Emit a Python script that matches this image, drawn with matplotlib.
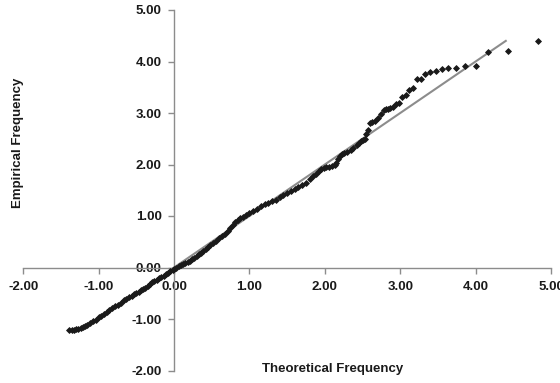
import matplotlib
matplotlib.use('Agg')
import matplotlib.pyplot as plt
from matplotlib.ticker import FormatStrFormatter

plt.rcParams['font.family'] = ['Liberation Sans', 'DejaVu Sans']

# Q-Q points (theoretical, empirical)
theoretical = [
    -1.39, -1.36, -1.33, -1.30, -1.27, -1.24, -1.21, -1.18, -1.15, -1.12,
    -1.08, -1.04, -1.00, -0.97, -0.93, -0.89, -0.86, -0.82, -0.78, -0.75,
    -0.71, -0.67, -0.64, -0.60, -0.56, -0.53, -0.50, -0.47, -0.44, -0.41,
    -0.38, -0.35, -0.32, -0.29, -0.26, -0.23, -0.20, -0.17, -0.14, -0.11,
    -0.08, -0.05, -0.02, 0.00, 0.03, 0.06, 0.09, 0.12, 0.15, 0.18,
    0.21, 0.24, 0.27, 0.30, 0.33, 0.36, 0.39, 0.42, 0.45, 0.48,
    0.51, 0.55, 0.59, 0.63, 0.67, 0.71, 0.74, 0.78, 0.81, 0.85,
    0.88, 0.92, 0.96, 1.00, 1.05, 1.10, 1.15, 1.20, 1.25, 1.30,
    1.35, 1.40, 1.45, 1.50, 1.55, 1.60, 1.65, 1.70, 1.75, 1.80,
    1.84, 1.88, 1.92, 1.95, 1.99, 2.02, 2.06, 2.10, 2.13, 2.15,
    2.18, 2.20, 2.23, 2.26, 2.30, 2.35, 2.38, 2.42, 2.45, 2.48,
    2.50, 2.53,
    2.55, 2.57, 2.60, 2.63, 2.66, 2.70, 2.75, 2.78, 2.81, 2.84,
    2.87, 2.91, 2.95, 2.98, 3.03, 3.08, 3.12, 3.17, 3.22, 3.27,
    3.33, 3.40, 3.47, 3.55, 3.64, 3.74, 3.86, 4.00, 4.17, 4.43, 4.83,
]
empirical = [
    -1.22, -1.22, -1.21, -1.20, -1.19, -1.18, -1.16, -1.13, -1.11, -1.08,
    -1.04, -1.01, -0.97, -0.94, -0.90, -0.86, -0.83, -0.79, -0.75, -0.72,
    -0.68, -0.64, -0.61, -0.58, -0.55, -0.52, -0.50, -0.47, -0.44, -0.41,
    -0.39, -0.36, -0.32, -0.29, -0.26, -0.24, -0.21, -0.19, -0.16, -0.13,
    -0.10, -0.07, -0.04, -0.02, 0.00, 0.02, 0.04, 0.06, 0.09, 0.11,
    0.13, 0.16, 0.19, 0.22, 0.26, 0.29, 0.33, 0.36, 0.40, 0.44,
    0.47, 0.52, 0.57, 0.62, 0.66, 0.70, 0.76, 0.82, 0.88, 0.93,
    0.96, 0.99, 1.02, 1.05, 1.10, 1.14, 1.19, 1.23, 1.26, 1.29,
    1.32, 1.36, 1.40, 1.44, 1.48, 1.52, 1.56, 1.60, 1.65, 1.71,
    1.77, 1.82, 1.87, 1.91, 1.94, 1.95, 1.96, 1.97, 2.00, 2.03,
    2.11, 2.16, 2.20, 2.22, 2.25, 2.29, 2.33, 2.38, 2.42, 2.45,
    2.47, 2.49,
    2.60, 2.67, 2.80, 2.82, 2.85, 2.90, 2.98, 3.05, 3.07, 3.08,
    3.09, 3.11, 3.18, 3.20, 3.31, 3.35, 3.45, 3.48, 3.66, 3.66,
    3.76, 3.79, 3.81, 3.85, 3.87, 3.88, 3.92, 3.92, 4.18, 4.21, 4.40,
]

# reference line y = x
ref_x = [-0.05, 4.40]
ref_y = [-0.05, 4.40]

x_ticks = [-2, -1, 0, 1, 2, 3, 4, 5]
y_ticks = [-2, -1, 0, 1, 2, 3, 4, 5]

fig = plt.figure(figsize=(5.6, 3.83), dpi=100)
ax = fig.add_axes([23.3 / 560, 12.5 / 383, (551 - 23.3) / 560, (370.5 - 10) / 383])

ax.plot(ref_x, ref_y, color='#8c8c8c', lw=1.5, zorder=2)
ax.plot(theoretical, empirical, linestyle='none', marker='D', markersize=3.0,
        markeredgewidth=0.6, color='#1a1a1a', zorder=3)

ax.set_xlim(-2, 5)
ax.set_ylim(-2, 5)
ax.set_xticks(x_ticks)
ax.set_yticks(y_ticks)
ax.xaxis.set_major_formatter(FormatStrFormatter('%.2f'))
ax.yaxis.set_major_formatter(FormatStrFormatter('%.2f'))

for side in ['top', 'right']:
    ax.spines[side].set_visible(False)
for side in ['left', 'bottom']:
    ax.spines[side].set_position(('data', 0))
    ax.spines[side].set_color('#8c8c8c')
    ax.spines[side].set_linewidth(1.0)

ax.tick_params(axis='both', direction='out', length=4, width=1, color='#8c8c8c',
               labelsize=9.5, labelcolor='#1a1a1a')
ax.tick_params(axis='x', pad=6)
ax.tick_params(axis='y', pad=5)
for lbl in ax.get_xticklabels() + ax.get_yticklabels():
    lbl.set_fontweight('bold')

fig.text(18 / 560, 1 - 143 / 383, 'Empirical Frequency', rotation=90,
         ha='center', va='center', fontsize=9.5, fontweight='bold', color='#1a1a1a')
fig.text(333 / 560, 1 - 369 / 383, 'Theoretical Frequency',
         ha='center', va='center', fontsize=9.5, fontweight='bold', color='#1a1a1a')

fig.savefig('out.png', dpi=100)
